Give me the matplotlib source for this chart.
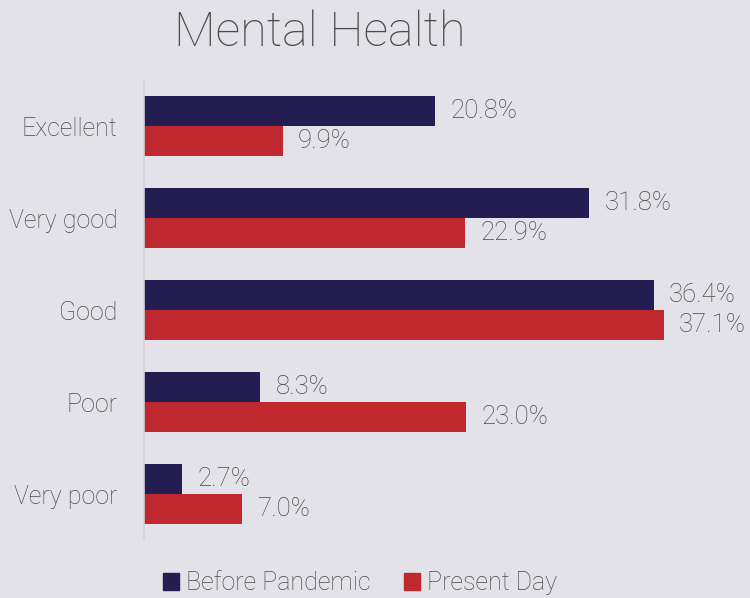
import matplotlib
matplotlib.use("Agg")
import matplotlib.pyplot as plt
from matplotlib.patches import Patch

plt.rcParams['font.family'] = ['Roboto', 'DejaVu Sans']
plt.rcParams['font.weight'] = 'light'

categories = ["Excellent", "Very good", "Good", "Poor", "Very poor"]
before = [20.8, 31.8, 36.4, 8.3, 2.7]
present = [9.9, 22.9, 37.1, 23.0, 7.0]
series_names = ["Before Pandemic", "Present Day"]

navy = "#241d52"
red = "#c0282f"
bg = "#e3e2e8"
txt = "#4a4a4a"

fig = plt.figure(figsize=(7.5, 5.98), dpi=100, facecolor=bg)
ax = fig.add_axes([0.192, 0.097, 0.747, 0.769], facecolor=bg)

h = 0.326
pos = list(range(len(categories)))
ax.barh([p - h / 2 for p in pos], before, height=h, color=navy)
ax.barh([p + h / 2 for p in pos], present, height=h, color=red)

# value labels just past each bar end
for p, b, c in zip(pos, before, present):
    ax.text(b + 1.1, p - h / 2, f"{b:.1f}%", va="center", ha="left",
            fontsize=18.5, color=txt)
    ax.text(c + 1.1, p + h / 2, f"{c:.1f}%", va="center", ha="left",
            fontsize=18.5, color=txt)

ax.set_ylim(4.5, -0.5)
ax.set_xlim(0, 40)
ax.set_yticks(pos)
ax.set_yticklabels(categories, fontsize=18, color=txt)
ax.tick_params(axis="y", length=0, pad=19)
ax.set_xticks([])
for s in ["top", "right", "bottom"]:
    ax.spines[s].set_visible(False)
ax.spines["left"].set_color("#d2d1d8")
ax.spines["left"].set_linewidth(1.2)

fig.text(0.427, 0.945, "Mental Health", ha="center", va="center",
         fontsize=35, color=txt)

handles = [Patch(color=navy), Patch(color=red)]
fig.legend(handles, series_names, loc="center", bbox_to_anchor=(0.48, 0.025),
           ncol=2, frameon=False, fontsize=18, labelcolor=txt,
           handlelength=0.65, handleheight=0.65, handletextpad=0.3,
           columnspacing=1.3)

fig.savefig("out.png", dpi=100, facecolor=bg)
